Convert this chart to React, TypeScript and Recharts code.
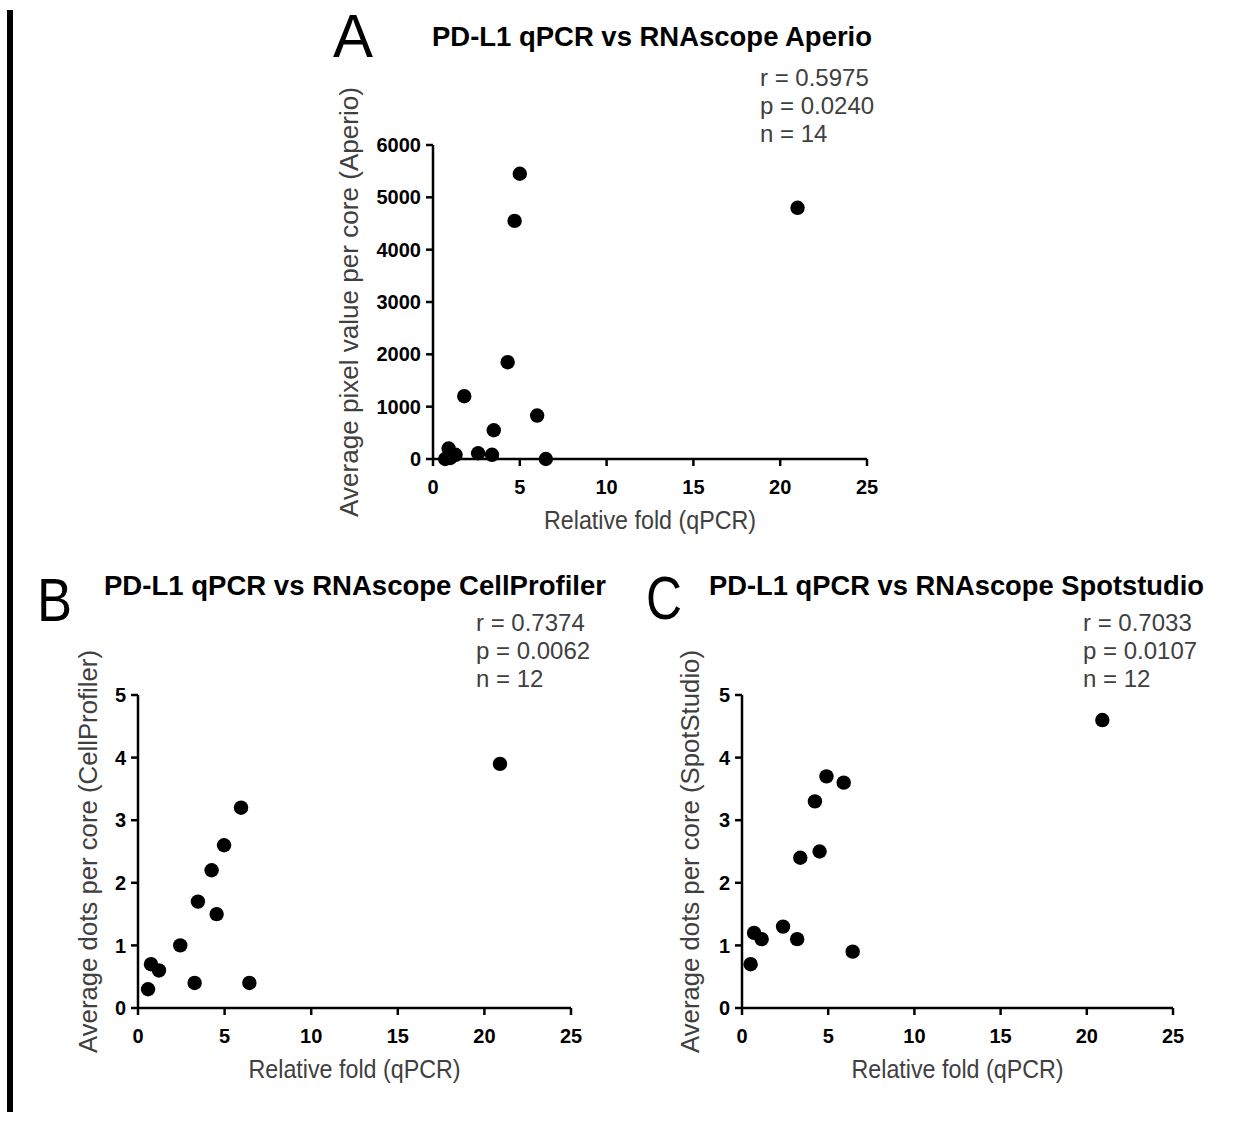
import { Label, Scatter, ScatterChart, XAxis, YAxis } from "recharts"

// qPCR relative fold vs RNAscope readouts
const aperioFold = [5.0, 4.7, 21.0, 4.3, 1.8, 6.0, 3.5, 2.6, 3.4, 6.5, 0.9, 1.3, 0.7, 1.0]
const aperioPixel = [5450, 4550, 4800, 1850, 1200, 830, 550, 110, 80, 0, 200, 80, 0, 20]

const cellProfilerFold = [20.9, 5.95, 4.97, 4.25, 3.46, 4.54, 2.44, 0.75, 1.21, 0.58, 3.27, 6.43]
const cellProfilerDots = [3.9, 3.2, 2.6, 2.2, 1.7, 1.5, 1.0, 0.7, 0.6, 0.3, 0.4, 0.4]

const spotStudioFold = [20.9, 4.9, 5.9, 4.23, 4.5, 3.38, 2.38, 0.7, 1.14, 3.2, 0.5, 6.42]
const spotStudioDots = [4.6, 3.7, 3.6, 3.3, 2.5, 2.4, 1.3, 1.2, 1.1, 1.1, 0.7, 0.9]

const foldTicks = [0, 5, 10, 15, 20, 25]
const pixelTicks = [0, 1000, 2000, 3000, 4000, 5000, 6000]
const dotTicks = [0, 1, 2, 3, 4, 5]

const FONT = "'Liberation Sans', Arial, Helvetica, sans-serif"
const LABEL_COLOR = "#404040"

const toPoints = (xs: number[], ys: number[]) => xs.map((x, i) => ({ x, y: ys[i] }))

const Dot = (props: any) => <circle cx={props.cx} cy={props.cy} r={7.2} fill="#000" />

const tickStyle = { fontSize: 20, fontWeight: "bold", fill: "#000", fontFamily: FONT }

type PanelProps = {
  plot: { left: number; top: number; right: number; bottom: number }
  xs: number[]
  ys: number[]
  yTicks: number[]
  yLabel: string
  yLabelOffset: number
  yLabelLength: number
}

const M = { top: 110, right: 20, left: 60, bottom: 20 }
const Y_W = 80
const X_H = 80

function Panel({ plot, xs, ys, yTicks, yLabel, yLabelOffset, yLabelLength }: PanelProps) {
  const width = plot.right - plot.left + M.left + Y_W + M.right
  const height = plot.bottom - plot.top + M.top + X_H + M.bottom
  return (
    <div
      style={{
        position: "absolute",
        left: plot.left - M.left - Y_W,
        top: plot.top - M.top,
      }}
    >
      <ScatterChart width={width} height={height} margin={M}>
        <XAxis
          type="number"
          dataKey="x"
          domain={[0, 25]}
          ticks={foldTicks}
          height={X_H}
          tick={tickStyle}
          tickSize={7}
          tickMargin={14}
          axisLine={{ stroke: "#000", strokeWidth: 2.5 }}
          tickLine={{ stroke: "#000", strokeWidth: 2.5 }}
        >
          <Label
            content={({ viewBox }: any) => (
              <text
                x={viewBox.x + viewBox.width / 2}
                y={viewBox.y + 70}
                textAnchor="middle"
                textLength={212}
                lengthAdjust="spacingAndGlyphs"
                fontSize={25}
                fill={LABEL_COLOR}
                fontFamily={FONT}
              >
                Relative fold (qPCR)
              </text>
            )}
          />
        </XAxis>
        <YAxis
          type="number"
          dataKey="y"
          domain={[yTicks[0], yTicks[yTicks.length - 1]]}
          ticks={yTicks}
          width={Y_W}
          tick={tickStyle}
          tickSize={7}
          tickMargin={5}
          axisLine={{ stroke: "#000", strokeWidth: 2.5 }}
          tickLine={{ stroke: "#000", strokeWidth: 2.5 }}
        >
          <Label
            content={({ viewBox }: any) => {
              const x = viewBox.x + viewBox.width - yLabelOffset
              const y = viewBox.y + viewBox.height / 2
              return (
                <text
                  x={x}
                  y={y}
                  transform={`rotate(-90, ${x}, ${y})`}
                  textAnchor="middle"
                  textLength={yLabelLength}
                  lengthAdjust="spacingAndGlyphs"
                  fontSize={25}
                  fill={LABEL_COLOR}
                  fontFamily={FONT}
                >
                  {yLabel}
                </text>
              )
            }}
          />
        </YAxis>
        <Scatter data={toPoints(xs, ys)} shape={Dot} isAnimationActive={false} />
      </ScatterChart>
    </div>
  )
}

function Heading({ letter, letterX, letterW, letterY, title, titleX, titleW, titleY, stats, statsX, statsY }: any) {
  return (
    <g fontFamily={FONT}>
      <text x={letterX} y={letterY} fontSize={62} textLength={letterW} lengthAdjust="spacingAndGlyphs" fill="#000">
        {letter}
      </text>
      <text
        x={titleX}
        y={titleY}
        fontSize={28}
        fontWeight="bold"
        textLength={titleW}
        lengthAdjust="spacingAndGlyphs"
        fill="#000"
      >
        {title}
      </text>
      {stats.map((s: string, i: number) => (
        <text key={s} x={statsX} y={statsY + i * 28} fontSize={24} fill={LABEL_COLOR}>
          {s}
        </text>
      ))}
    </g>
  )
}

export default function App() {
  return (
    <div style={{ position: "absolute", left: 0, top: 0, width: 1244, height: 1122, background: "#fff" }}>
      <div style={{ position: "absolute", left: 7, top: 10, width: 6, height: 1102, background: "#000" }} />
      <Panel
        plot={{ left: 433, top: 145, right: 867, bottom: 459 }}
        xs={aperioFold}
        ys={aperioPixel}
        yTicks={pixelTicks}
        yLabel="Average pixel value per core (Aperio)"
        yLabelOffset={75}
        yLabelLength={430}
      />
      <Panel
        plot={{ left: 138, top: 695, right: 571, bottom: 1008 }}
        xs={cellProfilerFold}
        ys={cellProfilerDots}
        yTicks={dotTicks}
        yLabel="Average dots per core (CellProfiler)"
        yLabelOffset={41}
        yLabelLength={403}
      />
      <Panel
        plot={{ left: 742, top: 695, right: 1173, bottom: 1008 }}
        xs={spotStudioFold}
        ys={spotStudioDots}
        yTicks={dotTicks}
        yLabel="Average dots per core (SpotStudio)"
        yLabelOffset={43}
        yLabelLength={403}
      />
      <svg width={1244} height={1122} style={{ position: "absolute", left: 0, top: 0, pointerEvents: "none" }}>
        <Heading
          letter="A"
          letterX={333}
          letterW={40}
          letterY={57}
          title="PD-L1 qPCR vs RNAscope Aperio"
          titleX={432}
          titleW={440}
          titleY={46}
          stats={["r = 0.5975", "p = 0.0240", "n = 14"]}
          statsX={760}
          statsY={86}
        />
        <Heading
          letter="B"
          letterX={37}
          letterW={35}
          letterY={621}
          title="PD-L1 qPCR vs RNAscope CellProfiler"
          titleX={104}
          titleW={502}
          titleY={595}
          stats={["r = 0.7374", "p = 0.0062", "n = 12"]}
          statsX={476}
          statsY={631}
        />
        <Heading
          letter="C"
          letterX={646}
          letterW={36}
          letterY={619}
          title="PD-L1 qPCR vs RNAscope Spotstudio"
          titleX={709}
          titleW={495}
          titleY={595}
          stats={["r = 0.7033", "p = 0.0107", "n = 12"]}
          statsX={1083}
          statsY={631}
        />
      </svg>
    </div>
  )
}
